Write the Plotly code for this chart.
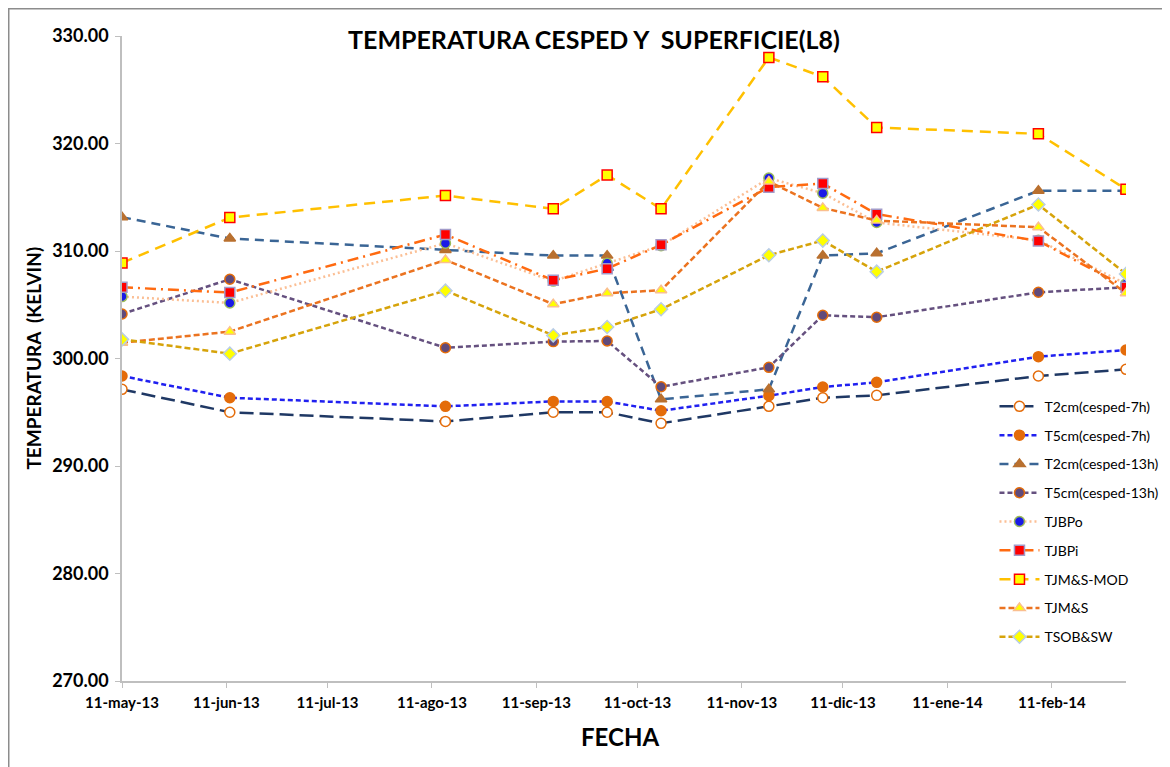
import plotly.graph_objects as go

# Landsat 8 overpass dates
fechas = ["2013-05-11", "2013-06-12", "2013-08-15", "2013-09-16", "2013-10-02",
          "2013-10-18", "2013-11-19", "2013-12-05", "2013-12-21", "2014-02-07",
          "2014-03-05"]

t2cm_7h = [297.13, 295.00, 294.15, 295.00, 295.00, 293.97, 295.55, 296.35, 296.57, 298.37, 298.99]
t5cm_7h = [298.37, 296.35, 295.55, 296.01, 296.00, 295.14, 296.54, 297.35, 297.78, 300.17, 300.79]
t2cm_13h = [313.15, 311.16, 310.10, 309.57, 309.57, 296.20, 297.13, 309.57, 309.79, 315.60, 315.60]
t5cm_13h = [304.14, 307.37, 301.00, 301.57, 301.63, 297.37, 299.18, 304.02, 303.84, 306.16, 306.63]
tjbpo = [305.76, 305.17, 310.72, 307.20, 308.86, 310.50, 316.78, 315.38, 312.65, 311.00, 306.94]
tjbpi = [306.63, 306.13, 311.53, 307.28, 308.36, 310.57, 315.94, 316.28, 313.43, 310.94, 306.63]
tjms_mod = [308.89, 313.11, 315.16, 313.92, 317.06, 313.92, 328.01, 326.21, 321.49, 320.90, 315.75]
tjms = [301.47, 302.50, 309.17, 305.05, 306.07, 306.35, 316.46, 314.01, 312.83, 312.21, 306.07]
tsob_sw = [301.78, 300.45, 306.31, 302.15, 302.93, 304.58, 309.61, 310.97, 308.08, 314.32, 307.87]

tick_fechas = ["2013-05-11", "2013-06-11", "2013-07-11", "2013-08-11", "2013-09-11",
               "2013-10-11", "2013-11-11", "2013-12-11", "2014-01-11", "2014-02-11"]
tick_textos = ["11-may-13", "11-jun-13", "11-jul-13", "11-ago-13", "11-sep-13",
               "11-oct-13", "11-nov-13", "11-dic-13", "11-ene-14", "11-feb-14"]

FONT = "Lato, 'Open Sans', sans-serif"

series = [
    # name, values, line colour, dash, marker symbol, marker fill, marker edge
    ("T2cm(cesped-7h)", t2cm_7h, "#1F3864", "14px,6px", "circle", "white", "#E46C0A"),
    ("T5cm(cesped-7h)", t5cm_7h, "#2020F0", "5px,3px", "circle", "#E46C0A", "#E46C0A"),
    ("T2cm(cesped-13h)", t2cm_13h, "#3A6595", "9px,6px", "triangle-up", "#B9702F", "#B9702F"),
    ("T5cm(cesped-13h)", t5cm_13h, "#65507F", "5px,3px", "circle", "#604A7B", "#E46C0A"),
    ("TJBPo", tjbpo, "#FBBF95", "2px,3px", "circle", "#1A1AE6", "#9BBB59"),
    ("TJBPi", tjbpi, "#FF6A10", "11px,5px,2px,5px", "square", "#FF0000", "#A29BC9"),
    ("TJM&S-MOD", tjms_mod, "#FFC000", "11px,7px", "square", "#FFFF00", "#FF0000"),
    ("TJM&S", tjms, "#EB7320", "6px,3px", "triangle-up", "#FFFF00", "#FABF8F"),
    ("TSOB&SW", tsob_sw, "#D6A30A", "6px,3px", "diamond", "#FFFF00", "#B9CDE5"),
]

fig = go.Figure()

for i, (name, vals, lc, dash, sym, fill, edge) in enumerate(series):
    fig.add_trace(
        go.Scatter(
            x=fechas,
            y=vals,
            mode="lines+markers",
            name=name,
            legendgroup=f"g{i}",
            line=dict(color=lc, width=2.5, dash=dash),
            marker=dict(symbol=sym, size=10, color=fill, line=dict(color=edge, width=1.5)),
        )
    )

# page body adds an 8px offset, so the figure is a bit smaller than the window
fig.update_layout(
    width=1162,
    height=759,
    margin=dict(l=114, r=44, t=28, b=86, autoexpand=False),
    paper_bgcolor="white",
    plot_bgcolor="white",
    font=dict(family=FONT, color="#000000"),
    title=dict(
        text="<b>TEMPERATURA CESPED Y&nbsp; SUPERFICIE(L8)</b>",
        x=0.5043, y=0.958, xanchor="center", yanchor="middle",
        font=dict(size=25, family=FONT, color="#000000"),
    ),
    legend=dict(
        x=0.869, y=0.45, xanchor="left", yanchor="top",
        bgcolor="rgba(0,0,0,0)", borderwidth=0,
        tracegroupgap=7.6,
        itemwidth=40,
        font=dict(size=14, family=FONT, color="#000000"),
    ),
    showlegend=True,
)

fig.update_xaxes(
    type="date",
    range=["2013-05-11", "2014-03-05"],
    tickvals=tick_fechas,
    ticktext=tick_textos,
    tickfont=dict(size=15, family=FONT, color="#000000", weight="bold"),
    ticklabelstandoff=2,
    showgrid=False,
    showline=True,
    linecolor="#BFBFBF",
    linewidth=1.5,
    ticks="outside",
    ticklen=5,
    tickcolor="#BFBFBF",
    zeroline=False,
)

fig.update_yaxes(
    range=[270, 330],
    dtick=10,
    tickformat=".2f",
    tickfont=dict(size=18, family=FONT, color="#000000", weight="bold"),
    ticklabelstandoff=3,
    showgrid=False,
    showline=True,
    linecolor="#BFBFBF",
    linewidth=1.5,
    ticks="outside",
    ticklen=5,
    tickcolor="#BFBFBF",
    zeroline=False,
)

# axis titles
fig.add_annotation(
    text="<b>TEMPERATURA&nbsp; (KELVIN)</b>", textangle=-90,
    xref="paper", yref="paper", x=-0.0886, y=0.5,
    xanchor="center", yanchor="middle",
    showarrow=False, font=dict(size=19, family=FONT, color="#000000"),
)
fig.add_annotation(
    text="<b>FECHA</b>",
    xref="paper", yref="paper", x=0.496, y=-0.0868,
    xanchor="center", yanchor="middle",
    showarrow=False, font=dict(size=24, family=FONT, color="#000000"),
)

# chart-area border (left and top edges of the figure)
fig.add_shape(
    type="rect", xref="paper", yref="paper",
    x0=-0.1128, x1=1.1, y0=-0.2, y1=1.0422,
    line=dict(color="#8C8C8C", width=1.5), fillcolor="rgba(0,0,0,0)", layer="below",
)

fig.write_html("out.html")
